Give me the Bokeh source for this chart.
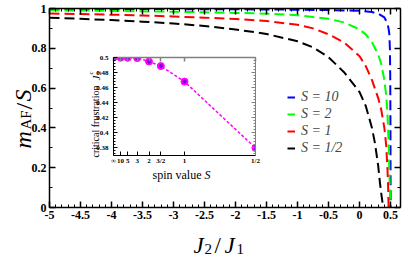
import numpy as np
from bokeh.plotting import figure
from bokeh.models import (FixedTicker, LinearAxis, Range1d, Label, Legend,
                          LegendItem, CustomJSTickFormatter)
from bokeh.embed import file_html
from bokeh.resources import INLINE

# ---------------- main panel data ----------------
J2_s10 = [-5, -4, -3, -2, -1, -0.5, 0, 0.2, 0.3, 0.4, 0.45, 0.47, 0.48, 0.49, 0.495, 0.498, 0.4995, 0.5]
m_s10 = [0.998, 0.9975, 0.997, 0.996, 0.994, 0.992, 0.989, 0.982, 0.974, 0.955, 0.925, 0.895, 0.87, 0.79, 0.64, 0.42, 0.22, 0.0]

J2_s2 = [-5, -4.5, -4, -3.5, -3, -2.5, -2, -1.5, -1, -0.5, -0.25, 0, 0.1, 0.2, 0.3, 0.35, 0.4, 0.43, 0.45, 0.47, 0.48, 0.49, 0.495]
m_s2 = [0.991, 0.990, 0.988, 0.986, 0.984, 0.981, 0.978, 0.974, 0.966, 0.948, 0.930, 0.895, 0.87, 0.83, 0.77, 0.72, 0.64, 0.56, 0.47, 0.31, 0.19, 0.08, 0.0]

J2_s1 = [-5, -4.5, -4, -3.5, -3, -2.5, -2, -1.5, -1, -0.75, -0.5, -0.25, 0, 0.1, 0.2, 0.3, 0.35, 0.4, 0.43, 0.45, 0.46, 0.468]
m_s1 = [0.975, 0.972, 0.969, 0.965, 0.960, 0.954, 0.947, 0.937, 0.918, 0.90, 0.87, 0.83, 0.76, 0.71, 0.64, 0.55, 0.49, 0.40, 0.31, 0.19, 0.11, 0.0]

J2_shalf = [-5, -4.5, -4, -3.5, -3, -2.5, -2, -1.5, -1, -0.75, -0.5, -0.25, 0, 0.1, 0.2, 0.25, 0.3, 0.33, 0.35, 0.37, 0.38]
m_shalf = [0.954, 0.948, 0.942, 0.934, 0.925, 0.912, 0.895, 0.872, 0.835, 0.805, 0.755, 0.68, 0.58, 0.51, 0.40, 0.32, 0.21, 0.12, 0.07, 0.025, 0.0]

series_labels = ["S = 10", "S = 2", "S = 1", "S = 1/2"]
series_colors = ["#0000ff", "#00ff00", "#ff0000", "#000000"]

x_ticks = [-5, -4.5, -4, -3.5, -3, -2.5, -2, -1.5, -1, -0.5, 0, 0.5]
x_tick_labels = ["-5", "-4.5", "-4", "-3.5", "-3", "-2.5", "-2", "-1.5", "-1", "-0.5", "0", "0.5"]
y_ticks = [0, 0.2, 0.4, 0.6, 0.8, 1.0]
y_tick_labels = ["0", "0.2", "0.4", "0.6", "0.8", "1"]

# ---------------- inset data ----------------
spin_S = [np.inf, 10, 5, 3, 2, 1.5, 1, 0.5]
spin_S_labels = ["\u221e", "10", "5", "3", "2", "3/2", "1", "1/2"]
J2c = [0.5, 0.4999, 0.4997, 0.4992, 0.4947, 0.4887, 0.468, 0.38]
inset_y_ticks = [0.38, 0.40, 0.42, 0.44, 0.46, 0.48, 0.50]
inset_y_tick_labels = ["0.38", "0.4", "0.42", "0.44", "0.46", "0.48", "0.5"]

SERIF = "Liberation Serif"

# ---------------- main figure ----------------
p = figure(width=404, height=252, x_range=Range1d(-5, 0.66), y_range=Range1d(0, 1),
           output_backend="svg", toolbar_location=None,
           min_border_left=49, min_border_right=4, min_border_top=8, min_border_bottom=45)
p.xgrid.visible = False
p.ygrid.visible = False
p.outline_line_color = None
p.background_fill_color = "white"
p.border_fill_color = "white"

x_minor = list(np.round(np.arange(-5, 0.66, 0.1), 2))
y_minor = list(np.round(np.arange(0, 1.01, 0.1), 2))


def style_axis(ax, tick_in=6, minor_in=3, lw=1.5, font_size="12px", color="black"):
    ax.axis_line_width = lw
    ax.axis_line_color = color
    ax.major_tick_in = tick_in
    ax.major_tick_out = 0
    ax.minor_tick_in = minor_in
    ax.minor_tick_out = 0
    ax.major_tick_line_width = lw
    ax.minor_tick_line_width = 1
    ax.major_tick_line_color = color
    ax.minor_tick_line_color = color
    ax.major_label_text_font = SERIF
    ax.major_label_text_font_style = "bold"
    ax.major_label_text_font_size = font_size
    ax.major_label_text_color = "black"


xb = p.xaxis[0]
xb.ticker = FixedTicker(ticks=x_ticks, minor_ticks=x_minor)
xb.major_label_overrides = dict(zip(x_ticks, x_tick_labels))
style_axis(xb)
xb.major_label_standoff = 3

yl = p.yaxis[0]
yl.ticker = FixedTicker(ticks=y_ticks, minor_ticks=y_minor)
yl.major_label_overrides = dict(zip(y_ticks, y_tick_labels))
style_axis(yl)
yl.major_label_standoff = 3

blank = CustomJSTickFormatter(code="return ''")
xt = LinearAxis(ticker=FixedTicker(ticks=x_ticks, minor_ticks=x_minor), formatter=blank)
style_axis(xt, font_size="1px")
xt.major_label_standoff = 0
p.add_layout(xt, "above")
yr = LinearAxis(ticker=FixedTicker(ticks=y_ticks, minor_ticks=y_minor), formatter=blank)
style_axis(yr, font_size="1px")
yr.major_label_standoff = 0
p.add_layout(yr, "right")

curves = [(J2_s10, m_s10), (J2_s2, m_s2), (J2_s1, m_s1), (J2_shalf, m_shalf)]
renderers = []
for (xs, ys), col in zip(curves, series_colors):
    r = p.line(xs, ys, line_color=col, line_width=2, line_dash="10 5")
    renderers.append(r)

legend = Legend(items=[LegendItem(label=l, renderers=[r]) for l, r in zip(series_labels, renderers)],
                location=(238, 51), glyph_width=8, glyph_height=14, label_height=14,
                label_standoff=6, spacing=1, padding=0, margin=0,
                label_text_font=SERIF, label_text_font_style="italic", label_text_font_size="14px",
                background_fill_alpha=0, border_line_alpha=0)
p.add_layout(legend)

# ---------------- inset figure ----------------
inv_S = [0.0 if np.isinf(s) else 1.0 / s for s in spin_S]

q = figure(width=36 + 142 + 6, height=4 + 98 + 28, x_range=Range1d(0, 2), y_range=Range1d(0.37, 0.5),
           output_backend="svg", toolbar_location=None,
           min_border_left=36, min_border_right=6, min_border_top=4, min_border_bottom=28,
           styles={"position": "absolute", "left": "77px", "top": "53px"})
q.xgrid.visible = False
q.ygrid.visible = False
q.outline_line_color = None
q.background_fill_alpha = 0
q.border_fill_alpha = 0

qx = q.xaxis[0]
qx.ticker = FixedTicker(ticks=inv_S, minor_ticks=[])
qx.major_label_overrides = dict(zip(inv_S, spin_S_labels))
style_axis(qx, tick_in=4, minor_in=2, lw=1, font_size="7px")
qx.major_label_standoff = 1

inset_minor = list(np.round(np.arange(0.372, 0.5001, 0.004), 3))
qy = q.yaxis[0]
qy.ticker = FixedTicker(ticks=inset_y_ticks, minor_ticks=inset_minor)
qy.major_label_overrides = dict(zip(inset_y_ticks, inset_y_tick_labels))
style_axis(qy, tick_in=4, minor_in=2, lw=1, font_size="7px")
qy.major_label_standoff = 5

qt = LinearAxis(ticker=FixedTicker(ticks=inv_S, minor_ticks=[]), formatter=blank)
style_axis(qt, tick_in=4, minor_in=2, lw=1.5, font_size="1px", color="#808080")
qt.major_label_standoff = 0
q.add_layout(qt, "above")
qr = LinearAxis(ticker=FixedTicker(ticks=inset_y_ticks, minor_ticks=inset_minor), formatter=blank)
style_axis(qr, tick_in=4, minor_in=2, lw=1, font_size="1px", color="#808080")
qr.major_label_standoff = 0
q.add_layout(qr, "right")

q.line(inv_S, J2c, line_color="#ff00ff", line_width=1.5, line_dash="3 2")
q.scatter(inv_S, J2c, size=7, fill_color="#ff00ff", line_color="#ff00ff")
q.scatter(inv_S, J2c, size=3, fill_color="#7000e0", line_color="#7000e0")

# ---------------- text overlay (axis titles composed of pieces) ----------------
o = figure(width=415, height=260, x_range=Range1d(0, 415), y_range=Range1d(260, 0),
           x_axis_location=None, y_axis_location=None, min_border=0,
           output_backend="svg", toolbar_location=None,
           styles={"position": "absolute", "left": "0px", "top": "0px"})
o.xgrid.visible = False
o.ygrid.visible = False
o.outline_line_color = None
o.background_fill_alpha = 0
o.border_fill_alpha = 0


def lab(x, y, text, size, style="italic", angle=0.0):
    o.add_layout(Label(x=x, y=y, text=text,
                       text_font=SERIF, text_font_style=style, text_font_size=size,
                       text_align="left", text_baseline="alphabetic", angle=angle,
                       text_color="black"))


# main x title: J_2 / J_1
lab(193, 245, "J", "23px")
lab(204, 248, "2", "15px", "normal")
lab(214, 245, "/", "23px", "normal")
lab(224, 245, "J", "23px")
lab(236, 248, "1", "15px", "normal")

# main y title: m_AF / S (rotated, reading upwards)
rot = np.pi / 2
lab(22, 148, "m", "24px", "italic", rot)
lab(25, 129, "AF", "15px", "normal", rot)
lab(23, 109, "/", "24px", "normal", rot)
lab(22, 101, "S", "24px", "italic", rot)

# inset x title: spin value S
lab(152, 174, "spin value", "12px", "normal")
lab(204, 174, "S", "12px", "italic")

# inset y title: critical frustration J_2^c (rotated)
lab(95, 157, "critical frustration", "10px", "normal", rot)
lab(95, 80, "J", "11px", "italic", rot)
lab(98, 74, "2", "7px", "normal", rot)
lab(90, 74, "c", "7px", "italic", rot)

open("out.html", "w").write(file_html([p, q, o], INLINE))
